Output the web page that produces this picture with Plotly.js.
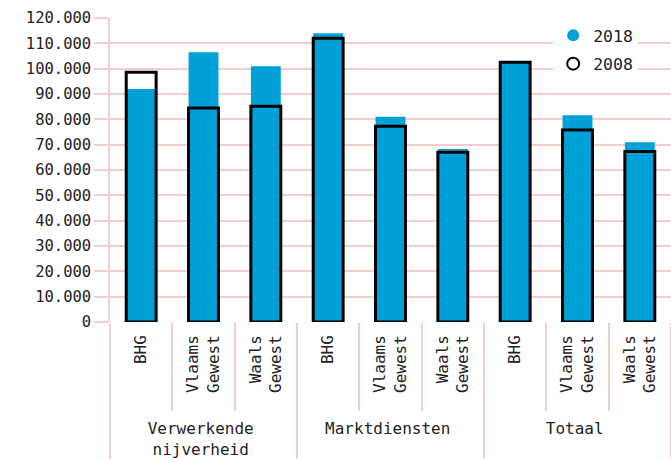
<!DOCTYPE html>
<html><head><meta charset="utf-8">
<script src="https://cdn.plot.ly/plotly-3.0.1.min.js"></script>
<style>body{margin:0;background:#fff}#c{width:671px;height:461px}</style>
</head><body><div id="c"></div>
<script>
const groups = ["Verwerkende<br>nijverheid","Verwerkende<br>nijverheid","Verwerkende<br>nijverheid","Marktdiensten","Marktdiensten","Marktdiensten","Totaal","Totaal","Totaal"];
const regions = ["BHG","\u00a0\u00a0Vlaams<br>Gewest","Waals<br>Gewest","BHG","\u00a0\u00a0Vlaams<br>Gewest","Waals<br>Gewest","BHG","\u00a0\u00a0Vlaams<br>Gewest","Waals<br>Gewest"];
const values2018 = [92000,106500,101000,114000,81000,68300,102700,81600,71000];
const values2008 = [98600,84500,85200,112000,77300,67000,102500,75800,67300];
const yTicks = [0,10000,20000,30000,40000,50000,60000,70000,80000,90000,100000,110000,120000];

const fam = "DejaVu Sans Mono, monospace";
const pink = "#f3cccc";
const blue = "#00a0d8";

const traces = [
 {type:"bar", x:[groups,regions], y:values2018, marker:{color:blue, line:{width:0}}, width:0.48, showlegend:false, hoverinfo:"y"},
 {type:"bar", x:[groups,regions], y:values2008, marker:{color:"rgba(0,0,0,0)", line:{color:"#000", width:3}}, width:0.48, showlegend:false, hoverinfo:"y"},
 {type:"scatter", mode:"markers", x:[null], y:[null], name:"2018", legendgroup:"a", marker:{symbol:"circle", size:15, color:blue}},
 {type:"scatter", mode:"markers", x:[null], y:[null], name:"2008", legendgroup:"b", marker:{symbol:"circle-open", size:12, color:"#000", line:{width:3, color:"#000"}}}
];

const layout = {
 width:671, height:461,
 margin:{l:110, r:0, t:18, b:139},
 barmode:"overlay",
 separators:",.",
 font:{family:fam, size:15.5, color:"#222"},
 paper_bgcolor:"#fff", plot_bgcolor:"#fff",
 xaxis:{type:"multicategory", showgrid:false, showline:false, zeroline:false,
   ticks:"outside", ticklen:88, tickcolor:pink, tickwidth:1.5, tickangle:-90, ticklabelstandoff:9,
   showdividers:true, dividercolor:pink, dividerwidth:1.5, tickfont:{family:fam, size:16, color:"#222"}},
 yaxis:{range:[0,120000], tickvals:yTicks, tickformat:",d", showgrid:true, gridcolor:pink, gridwidth:1.5,
   ticks:"outside", ticklen:14, tickcolor:pink, tickwidth:1.5, showline:true, linecolor:pink, linewidth:1.5,
   zeroline:false, tickfont:{family:fam, size:15.5, color:"#222"}},
 legend:{x:0.79, y:1.0, xanchor:"left", yanchor:"top", bgcolor:"#fff", font:{family:fam, size:16.5, color:"#222"}, tracegroupgap:4, itemsizing:"constant"},
 showlegend:true
};
Plotly.newPlot("c", traces, layout, {displayModeBar:false});
</script></body></html>
